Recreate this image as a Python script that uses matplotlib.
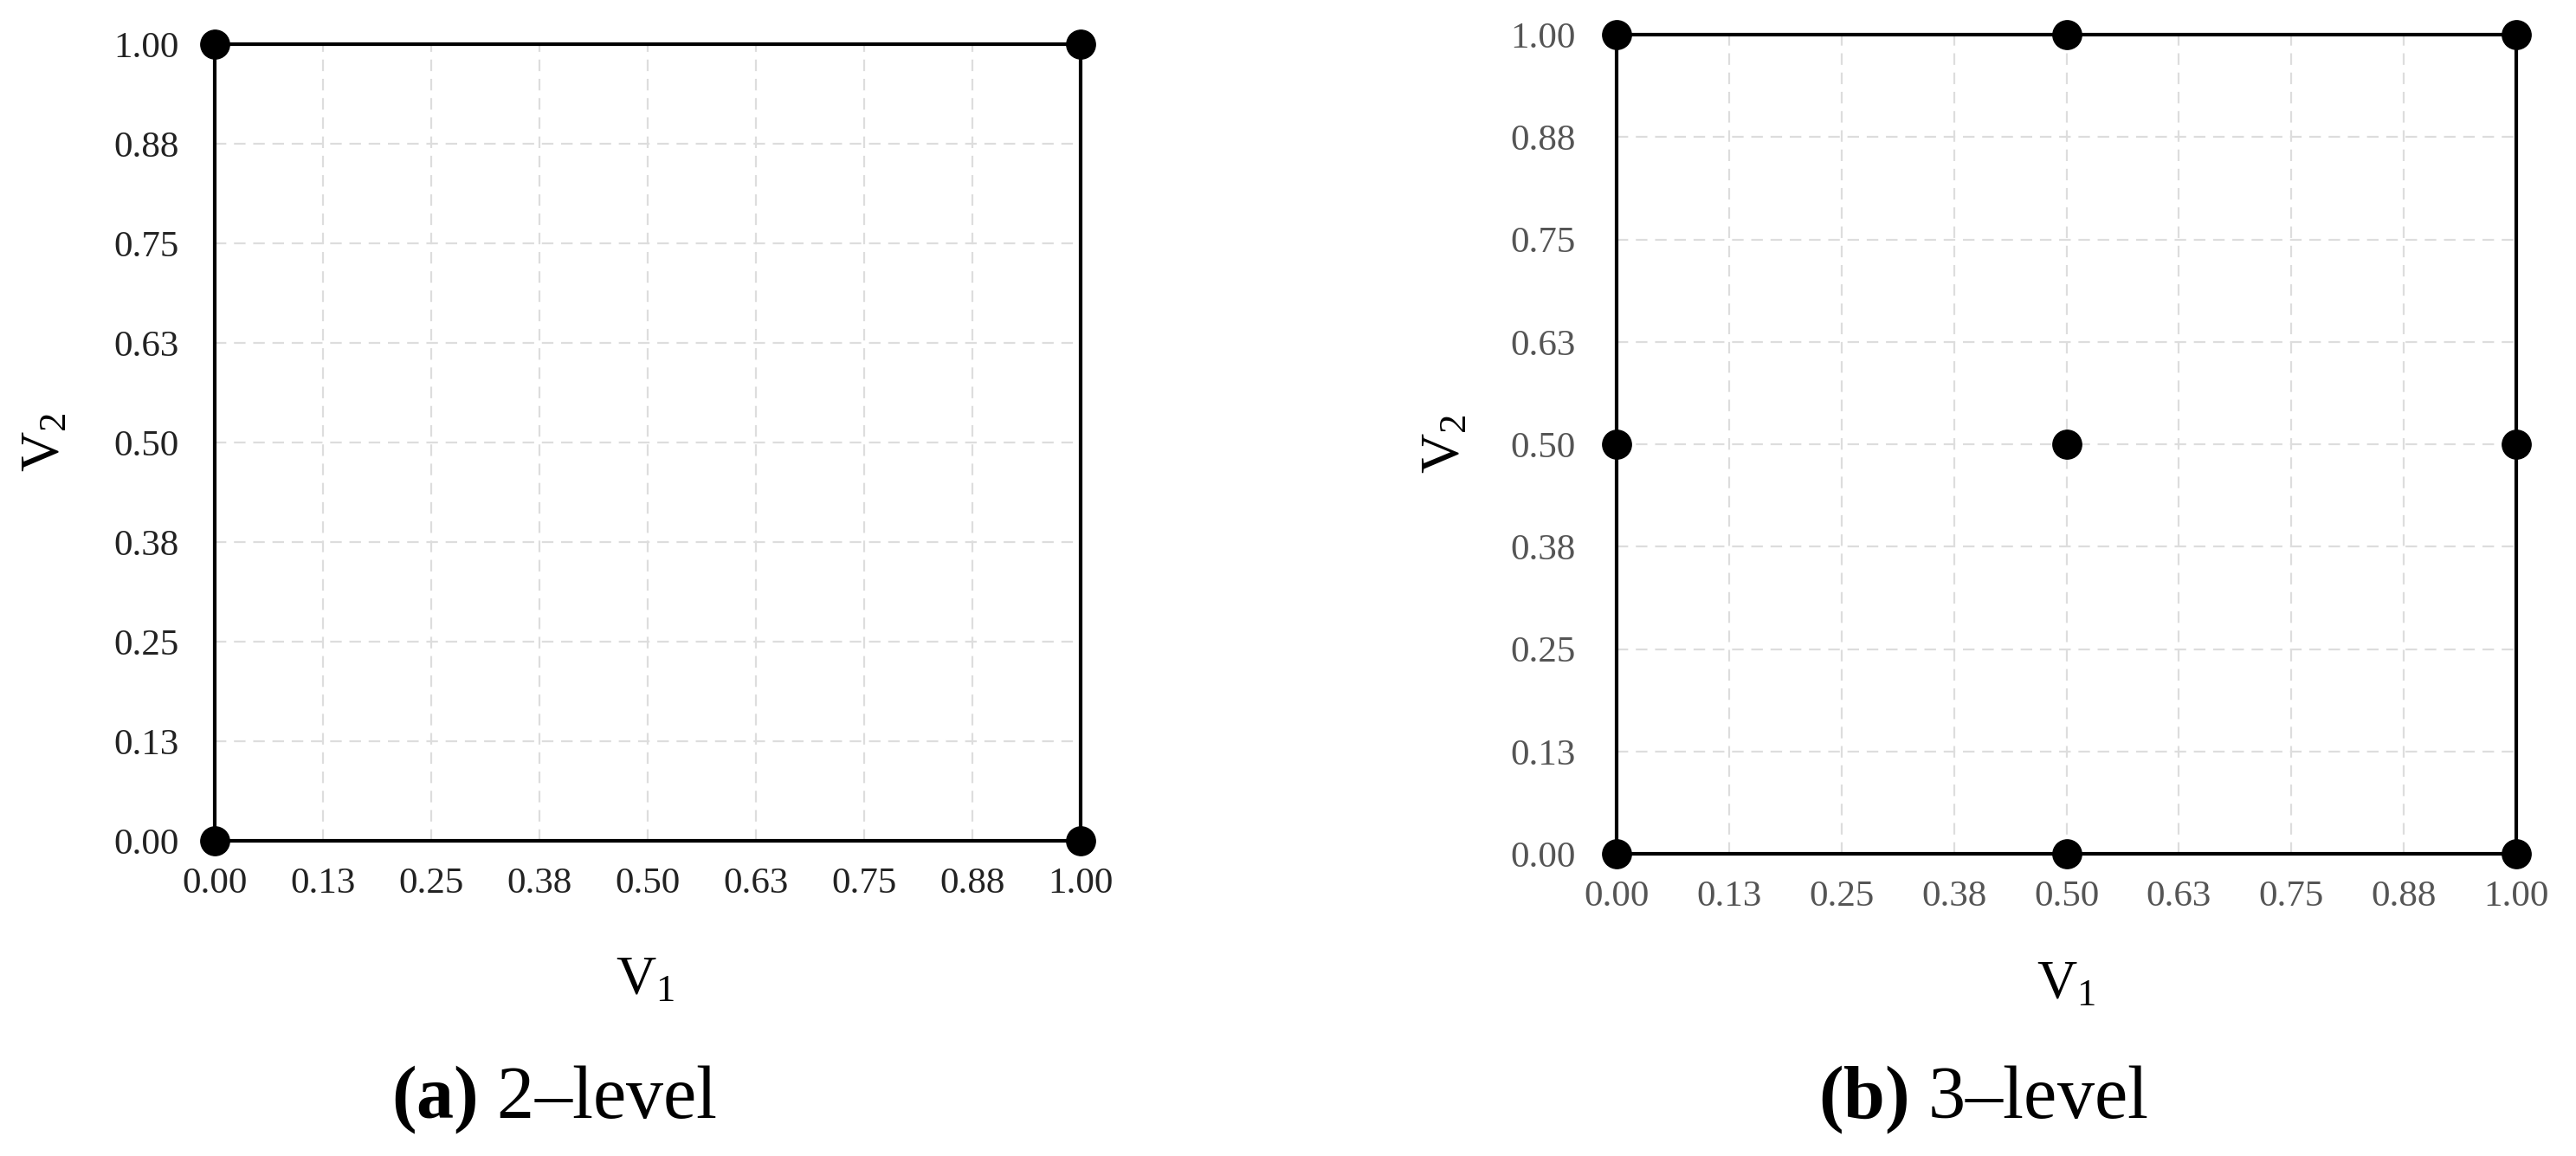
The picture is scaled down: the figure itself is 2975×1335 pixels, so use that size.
import matplotlib
matplotlib.use("Agg")
import matplotlib.pyplot as plt

plt.rcParams['font.family'] = ['Liberation Serif', 'DejaVu Serif']
plt.rcParams['mathtext.fontset'] = 'custom'
plt.rcParams['mathtext.rm'] = 'Liberation Serif'
plt.rcParams['mathtext.it'] = 'Liberation Serif:italic'
plt.rcParams['mathtext.bf'] = 'Liberation Serif:bold'

# design points for each panel
v1_2level = [0.0, 1.0, 0.0, 1.0]
v2_2level = [0.0, 0.0, 1.0, 1.0]
v1_3level = [0.0, 0.5, 1.0, 0.0, 0.5, 1.0, 0.0, 0.5, 1.0]
v2_3level = [0.0, 0.0, 0.0, 0.5, 0.5, 0.5, 1.0, 1.0, 1.0]

# ticks
tick_pos = [0.0, 0.125, 0.25, 0.375, 0.5, 0.625, 0.75, 0.875, 1.0]
tick_lab = ['0.00', '0.13', '0.25', '0.38', '0.50', '0.63', '0.75', '0.88', '1.00']

captions = [(r'$\mathbf{(a)}$', ' 2\u2013level'), (r'$\mathbf{(b)}$', ' 3\u2013level')]

fig = plt.figure(figsize=(29.75, 13.35), dpi=100)

ax1 = fig.add_axes([0.0835, 0.2727, 0.336, 0.689])
ax2 = fig.add_axes([0.6276, 0.2614, 0.3492, 0.7086])


def setup(ax, xs, ys, tick_color, xpad, ypad):
    ax.set_xlim(0, 1)
    ax.set_ylim(0, 1)
    ax.set_xticks(tick_pos)
    ax.set_xticklabels(tick_lab)
    ax.set_yticks(tick_pos)
    ax.set_yticklabels(tick_lab)
    ax.tick_params(length=0, labelsize=31, colors=tick_color)
    ax.tick_params(axis='x', pad=xpad)
    ax.tick_params(axis='y', pad=ypad)
    ax.grid(True, color='#dddddd', linestyle=(0, (6, 4)), linewidth=1.6)
    for s in ax.spines.values():
        s.set_color('black')
        s.set_linewidth(3)
    ax.plot(xs, ys, 'o', color='black', markersize=24, clip_on=False, zorder=5)


setup(ax1, v1_2level, v2_2level, '#222222', 22, 30)
setup(ax2, v1_3level, v2_3level, '#555555', 22, 34)

# axis titles
fig.text(0.2505, 1 - 1133 / 1335, r'V$_1$', fontsize=46, ha='center', va='center')
fig.text(0.018, 1 - 511 / 1335, r'V$_2$', fontsize=46, ha='center', va='center', rotation=90)
fig.text(0.8022, 1 - 1138 / 1335, r'V$_1$', fontsize=46, ha='center', va='center')
fig.text(0.5615, 1 - 513 / 1335, r'V$_2$', fontsize=46, ha='center', va='center', rotation=90)

# panel captions
for (b, rest), cx in zip(captions, [640 / 2975, 2290 / 2975]):
    fig.text(cx, 1 - 1270 / 1335, b + rest, fontsize=62, ha='center', va='center')

fig.savefig('out.png', dpi=100, facecolor='white')
